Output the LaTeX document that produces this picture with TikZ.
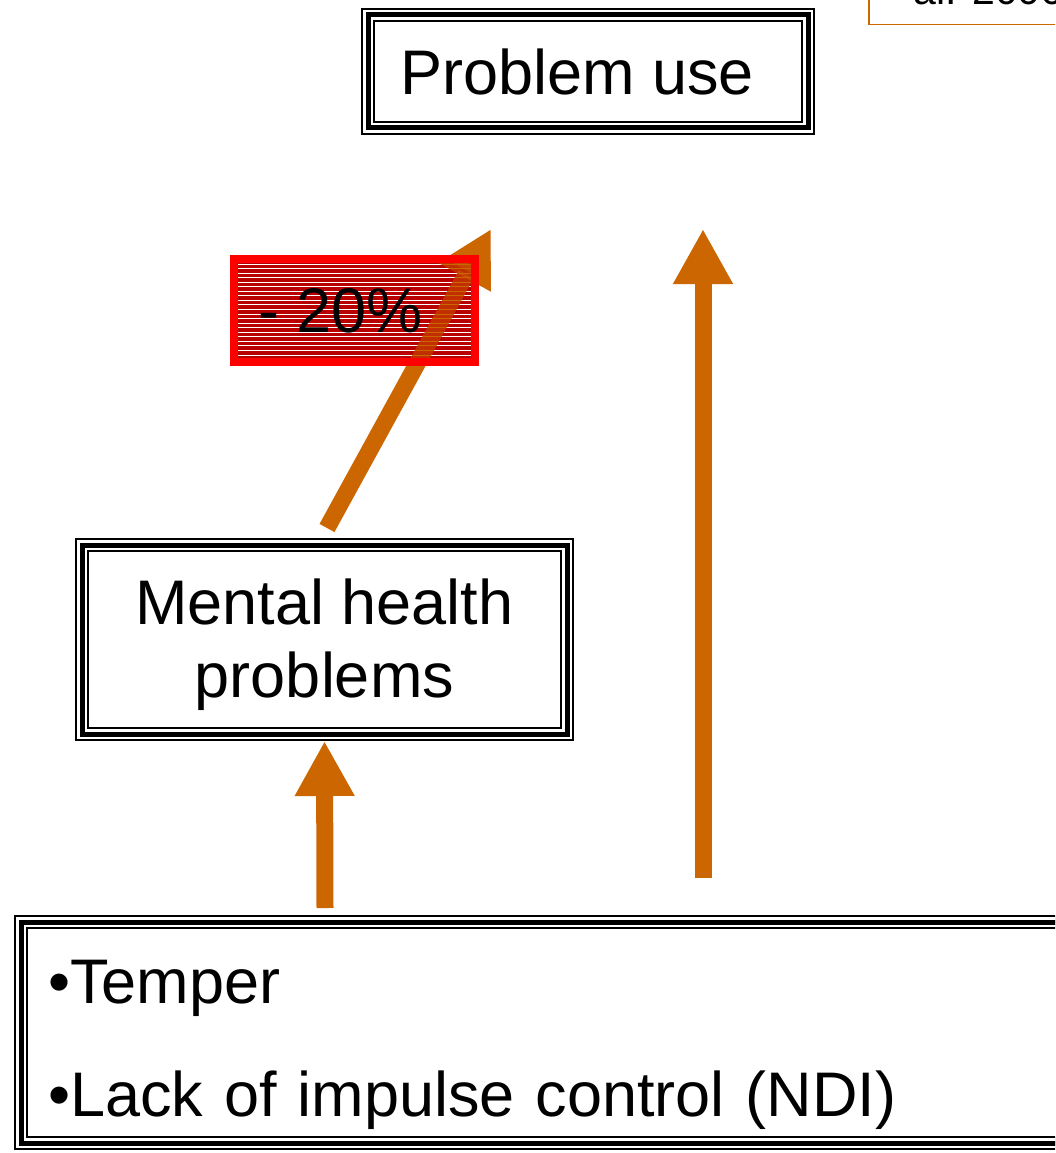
\documentclass[tikz,border=0pt]{standalone}
\usepackage{fontspec}
\setmainfont{Liberation Sans}
\usetikzlibrary{arrows.meta,calc}
\definecolor{arrowor}{HTML}{CC6600}
\definecolor{stripered}{HTML}{B80000}
\begin{document}
\begin{tikzpicture}[x=1pt,y=-1pt,
  % thin-thick-thin black frame
  tripleframe/.style={draw=black,line width=14pt,
    postaction={draw=white,line width=10pt},
    postaction={draw=black,line width=5pt},
    inner sep=0pt,outer sep=0pt,font=\fontsize{63}{73}\selectfont},
  flow/.style={draw=arrowor,line width=17pt,
    -{Triangle[length=55pt,width=56pt]}},
  refbox/.style={draw=arrowor,line width=1.5pt,
    font=\fontsize{41}{49}\selectfont}]
\useasboundingbox (0,0) rectangle (1055,1153);
\clip (0,0) rectangle (1055,1153);

% reference box in the corner
\node[refbox,anchor=base west,inner xsep=45pt,inner ysep=19pt] (ref) at (868,5) {al. 2006};

% boxes
\node[tripleframe,minimum width=440pt,minimum height=113pt] (pu) at (588,71.5)
  {Problem use\kern22pt};
\node[tripleframe,minimum width=485pt,minimum height=189pt,align=center] (mh) at (324.5,639.5)
  {\rule{0pt}{57pt}Mental health\\problems};
\node[tripleframe,anchor=north west,minimum width=1080pt,minimum height=221pt,
  text width=1026pt,inner xsep=27pt,align=left] (tr) at (21,922)
  {\rule{0pt}{68pt}•Temper\\[40pt]•Lack of impulse control (NDI)};

% arrow end points
\coordinate (mhTop) at (327,528);
\coordinate (puLeft) at (491,229);
\coordinate (trRight) at (703,878);
\coordinate (puRight) at (703,229);
\coordinate (trLeft) at (325,908);

% arrows
\draw[flow] (trLeft) -- ([yshift=-7pt]mh.south);
\draw[flow] (trRight) -- (puRight);
\draw[flow] (mhTop) -- (puLeft);

% hatched interior of the label box: dark red, the arrow dimly showing through
\fill[stripered] (236,259) rectangle (474,362);
\begin{scope}
  \clip (236,259) rectangle (474,362);
  \draw[flow,opacity=0.45] (mhTop) -- (puLeft);
\end{scope}
% thin light hatching lines, letting the arrow through
\begin{scope}
  \clip foreach \k [evaluate=\k as \yy using int(264+\k*4.55)] in {0,...,21}
    {(236,\yy+0.15) rectangle (474,\yy+0.85)};
  \fill[white] (236,259) rectangle (474,362);
  \draw[flow] (mhTop) -- (puLeft);
\end{scope}

% label box
\node[draw=red,line width=8pt,minimum width=241pt,minimum height=103pt,inner sep=0pt,
  font=\fontsize{63}{73}\selectfont] (pct) at (354.5,310.5) {- 20\%\kern28pt};
\end{tikzpicture}
\end{document}
